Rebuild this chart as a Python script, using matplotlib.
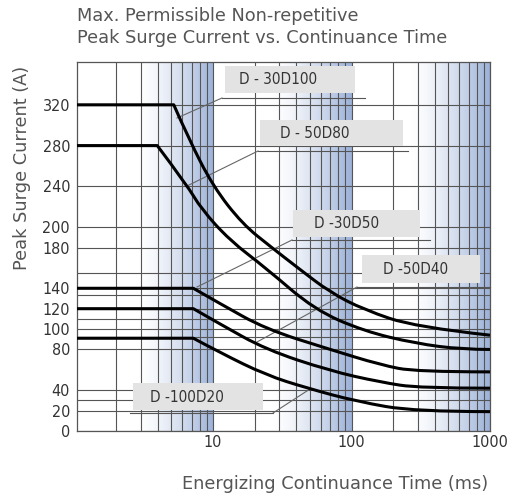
import numpy as np
import matplotlib
matplotlib.use("Agg")
import matplotlib.pyplot as plt
from matplotlib import font_manager as fm
from matplotlib.patches import Rectangle, PathPatch
from matplotlib.path import Path

# --- data (time in ms, current in A) ---
t_30d100 = [1.04, 5.2, 6.7, 10, 16.3, 26.5, 41, 70, 123, 288, 1000]
i_30d100 = [320, 320, 286, 240, 203, 180, 160, 136, 119, 102, 94]

t_50d80 = [1.04, 3.95, 6.5, 8.2, 13.2, 24, 54, 123, 288, 631, 1000]
i_50d80 = [280, 280, 241, 218, 187, 160, 119, 98, 86, 80, 80]

t_30d50 = [1.04, 7.2, 11.2, 24, 70, 161, 293, 1000]
i_30d50 = [140, 140, 125, 100, 80, 65, 58, 58]

t_50d40 = [1.04, 7.2, 11.2, 24, 70, 161, 310, 1000]
i_50d40 = [120, 120, 105, 80, 59, 48, 42, 42]

t_100d20 = [1.04, 7.2, 11.2, 24, 48, 109, 288, 1000]
i_100d20 = [91, 91, 77, 55, 42, 29, 19, 19]

y_ticks = [0, 20, 40, 80, 100, 120, 140, 180, 200, 240, 280, 320]
y_grid_extra = [30, 92, 110, 133, 155]
x_ticks = [10, 100, 1000]
x_ticklabels = ["10", "100", "1000"]

XMIN, XMAX = 1.04, 1000
YMIN, YMAX = 0, 362

# condensed face for the numbers if there is one
cond = fm.findfont(fm.FontProperties(family="DejaVu Sans", stretch="condensed"))
if "Condensed" in cond:
    num_font = dict(family="DejaVu Sans", stretch="condensed")
else:
    num_font = dict(family="Roboto")

W, H = 513, 497
fig = plt.figure(figsize=(W / 100, H / 100), dpi=100)
ax = fig.add_axes([77 / W, 1 - 431 / H, 413 / W, 369 / H])
ax.set_xscale("log")


def fx(x):
    # data x -> axes fraction (log axis)
    return (np.log10(x) - np.log10(XMIN)) / (np.log10(XMAX) - np.log10(XMIN))


def px(x, y):
    # image pixel -> axes fraction, for the callouts
    return (x - 77) / 413, (431 - y) / 369


# blue gradient bands, darker toward each decade line
band_rgb = np.array([0.54, 0.64, 0.82])
for x0, x1 in [(2.8, 10), (26, 100), (260, 1000)]:
    n = 256
    ramp = np.linspace(0, 1, n) ** 1.5 * 0.85
    img = np.zeros((1, n, 4))
    img[..., :3] = band_rgb
    img[..., 3] = ramp
    ax.imshow(img, extent=[fx(x0), fx(x1), 0, 1], transform=ax.transAxes,
              aspect="auto", zorder=0, interpolation="bilinear")
ax.set_xlim(XMIN, XMAX)
ax.set_ylim(YMIN, YMAX)

# grid
grid_kw = dict(color="#555555", lw=0.8, zorder=1)
for dec in [1, 10, 100]:
    for m in range(2, 11):
        v = dec * m
        if XMIN < v < XMAX:
            ax.axvline(v, **grid_kw)
for v in y_ticks + y_grid_extra:
    ax.axhline(v, **grid_kw)

for s in ax.spines.values():
    s.set_color("#555555")
    s.set_linewidth(0.9)


def smooth_path(t, i):
    # straight flat part up to the knee, then a quadratic spline through the rest
    verts = [(t[0], i[0]), (t[1], i[1])]
    codes = [Path.MOVETO, Path.LINETO]
    for k in range(2, len(t) - 1):
        if k < len(t) - 2:
            mt = np.sqrt(t[k] * t[k + 1])
            mi = (i[k] + i[k + 1]) / 2
        else:
            mt, mi = t[k + 1], i[k + 1]
        verts += [(t[k], i[k]), (mt, mi)]
        codes += [Path.CURVE3, Path.CURVE3]
    return Path(verts, codes)


for t, i in [(t_30d100, i_30d100), (t_50d80, i_50d80), (t_30d50, i_30d50),
             (t_50d40, i_50d40), (t_100d20, i_100d20)]:
    ax.add_patch(PathPatch(smooth_path(t, i), fc="none", ec="black", lw=2.2,
                           zorder=5, joinstyle="round", capstyle="butt"))

# ticks
ax.set_yticks(y_ticks)
ax.set_yticklabels([str(v) for v in y_ticks], color="#333333", size=11.5, **num_font)
ax.set_xticks(x_ticks)
ax.set_xticklabels(x_ticklabels, color="#333333", size=11.5, **num_font)
ax.minorticks_off()
ax.tick_params(axis="y", length=0, pad=5)
ax.tick_params(axis="x", length=0, pad=3)

# callout labels: (text, box, text centre, underline, leader end)
callouts = [
    ("D - 30D100", (225, 66, 355, 93), (278, 80), (222, 365, 98), (177, 118)),
    ("D - 50D80", (260, 120, 403, 146), (315, 133), (258, 408, 151), (187, 186)),
    ("D -30D50", (293, 210, 420, 237), (347, 224), (292, 430, 240), (197, 287)),
    ("D -50D40", (362, 255, 480, 283), (416, 270), (357, 490, 287), (257, 342)),
    ("D -100D20", (133, 383, 263, 410), (187, 397), (130, 273, 413), (310, 389)),
]
for text, box, tc, ul, end in callouts:
    bx0, by0 = px(box[0], box[3])
    bx1, by1 = px(box[2], box[1])
    ax.add_patch(Rectangle((bx0, by0), bx1 - bx0, by1 - by0, transform=ax.transAxes,
                           fc="#e3e3e3", ec="none", zorder=3))
    cx, cy = px(*tc)
    ax.text(cx, cy, text, transform=ax.transAxes, ha="center", va="center",
            color="#333333", zorder=4, size=11, **num_font)
    ux0, uy = px(ul[0], ul[2])
    ux1, _ = px(ul[1], ul[2])
    ax.plot([ux0, ux1], [uy, uy], transform=ax.transAxes, color="#555555",
            lw=0.8, zorder=4, clip_on=False)
    ex, ey = px(*end)
    sx = ux1 if text == "D -100D20" else ux0
    ax.plot([sx, ex], [uy, ey], transform=ax.transAxes, color="#666666",
            lw=0.8, zorder=4)

# titles and axis labels
title_kw = dict(color="#555555", size=12.8, family="DejaVu Sans")
fig.text(77 / W, 1 - 16 / H, "Max. Permissible Non-repetitive", ha="left", va="center", **title_kw)
fig.text(77 / W, 1 - 38 / H, "Peak Surge Current vs. Continuance Time", ha="left", va="center", **title_kw)
fig.text(22 / W, 1 - 168 / H, "Peak Surge Current (A)", rotation=90, ha="center", va="center", **title_kw)
fig.text(335 / W, 1 - 484 / H, "Energizing Continuance Time (ms)", ha="center", va="center", **title_kw)

fig.savefig("out.png", dpi=100)
